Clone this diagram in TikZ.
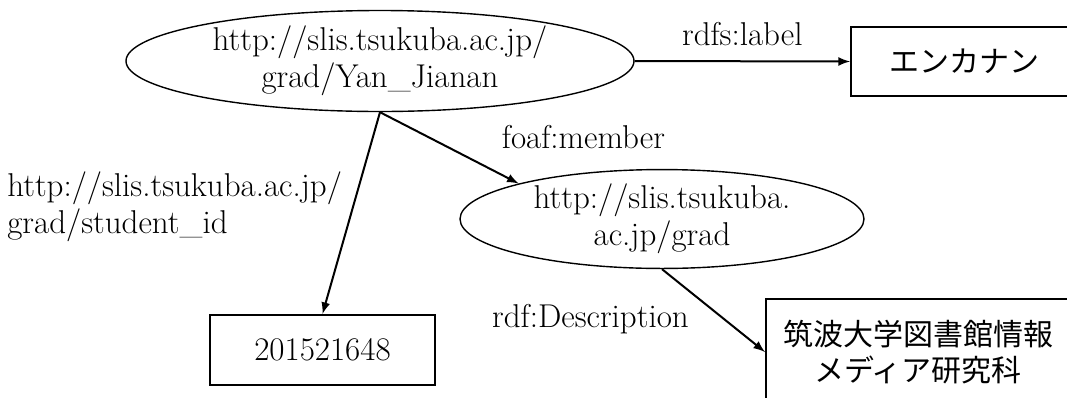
\documentclass[tikz,border=0pt]{standalone}
\usepackage{fontspec}
\newfontfamily\cjk{Noto Sans CJK JP}
\usetikzlibrary{shapes.geometric,positioning}
\begin{document}
\begin{tikzpicture}[>=latex, x=0.5pt, y=-0.5pt,
    every node/.style={font=\fontsize{16.5}{18.5}\selectfont, inner sep=0pt},
    res/.style={draw, ellipse, line width=.7pt, align=center},
    lit/.style={draw, rectangle, line width=1pt, align=center},
    rel/.style={->, line width=1pt},
    lbl/.style={inner sep=5pt, align=left}]
\useasboundingbox (0,0) rectangle (1067,397);
\clip (0,0) rectangle (1067,397);
% resources
\node[res, minimum width=254pt, minimum height=50.5pt] (yan) at (380,61) {http://slis.tsukuba.ac.jp/\\grad/Yan\_Jianan};
\node[res, minimum width=202pt, minimum height=48pt] (grad) at (662,219) {http://slis.tsukuba.\\ac.jp/grad};
% literals
\node[lit, minimum width=113pt, minimum height=34.5pt, font=\cjk\fontsize{15}{18}\selectfont] (kana) at (964,61.5) {エンカナン};
\node[lit, minimum width=112.5pt, minimum height=35pt] (sid) at (322.5,350) {201521648};
\node[lit, minimum width=152pt, minimum height=53pt, font=\cjk\fontsize{15}{18}\selectfont] (desc) at (918,352) {筑波大学図書館情報\\メディア研究科};
% properties
\draw[rel] (yan.east) -- node[lbl, above=2pt] {rdfs:label} (kana.west);
\draw[rel] (yan.south) -- node[lbl, pos=.8, anchor=south west, yshift=5pt] {foaf:member} (grad.north west);
\draw[rel] (yan.south) -- node[lbl, pos=.47, left] {http://slis.tsukuba.ac.jp/\\grad/student\_id} (sid.north);
\draw[rel] (grad.south) -- node[lbl, pos=.6, left=12pt] {rdf:Description} (desc.west);
\end{tikzpicture}
\end{document}
